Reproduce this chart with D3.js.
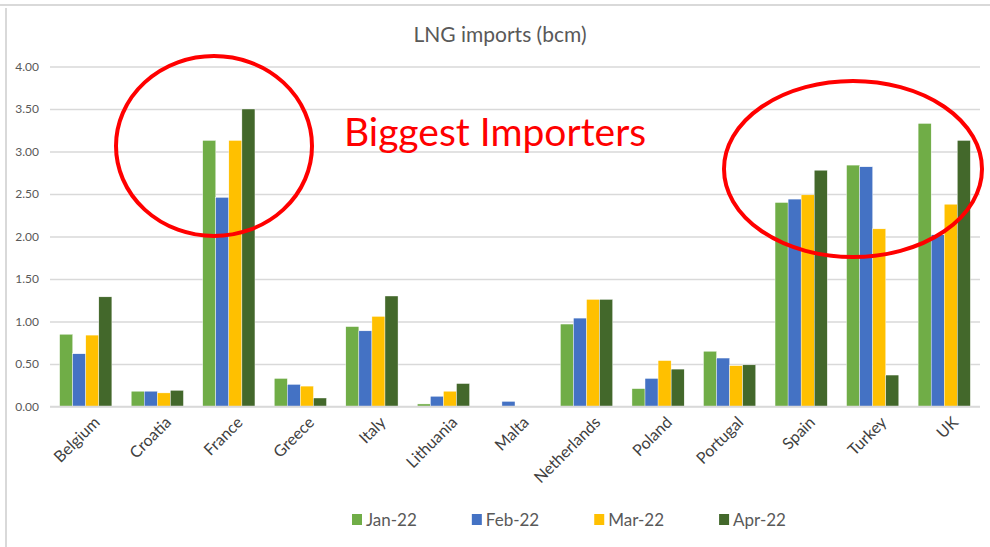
<!DOCTYPE html>
<html>
<head>
<meta charset="utf-8">
<script src="https://cdn.jsdelivr.net/npm/d3@7"></script>
<style>
    body { margin: 0; background: #fff; }
    #chart-area { width: 990px; height: 547px; }
    .axis text { font-family: Lato, "Open Sans", sans-serif; fill: #595959; }
</style>
</head>
<body>
<div id="chart-area"></div>
<script>

// data (bcm)
let countries = ["Belgium", "Croatia", "France", "Greece", "Italy", "Lithuania", "Malta",
    "Netherlands", "Poland", "Portugal", "Spain", "Turkey", "UK"];
let months = ["Jan-22", "Feb-22", "Mar-22", "Apr-22"];
let jan22 = [0.85, 0.18, 3.13, 0.33, 0.94, 0.03, 0.00, 0.97, 0.21, 0.65, 2.40, 2.84, 3.33];
let feb22 = [0.62, 0.18, 2.46, 0.26, 0.89, 0.12, 0.06, 1.04, 0.33, 0.57, 2.44, 2.82, 2.02];
let mar22 = [0.84, 0.16, 3.13, 0.24, 1.06, 0.18, 0.00, 1.26, 0.54, 0.48, 2.49, 2.09, 2.38];
let apr22 = [1.29, 0.19, 3.50, 0.10, 1.30, 0.27, 0.00, 1.26, 0.44, 0.49, 2.78, 0.37, 3.13];
let yTicks = [0, 0.5, 1, 1.5, 2, 2.5, 3, 3.5, 4];
let colors = ["#70ad47", "#4472c4", "#ffc000", "#43682b"];


class GroupedBarChart {

    constructor(parentElement) {
        this.parentElement = parentElement;
        this.initVis();
    }

    initVis() {
        let vis = this;

        vis.width = 990;
        vis.height = 547;
        vis.plot = {left: 50, right: 980, top: 66.5, bottom: 406.5};

        vis.svg = d3.select("#" + vis.parentElement).append("svg")
            .attr("width", vis.width)
            .attr("height", vis.height);

        // chart frame (top + left edges visible in the screenshot)
        vis.svg.append("line")
            .attr("x1", 0).attr("x2", vis.width)
            .attr("y1", 5).attr("y2", 5)
            .attr("stroke", "#d9d9d9").attr("stroke-width", 2);
        vis.svg.append("line")
            .attr("x1", 6).attr("x2", 6)
            .attr("y1", 8).attr("y2", vis.height)
            .attr("stroke", "#d9d9d9").attr("stroke-width", 2);

        // title
        vis.svg.append("text")
            .attr("x", 500)
            .attr("y", 42)
            .attr("text-anchor", "middle")
            .style("font-family", "Lato, 'Open Sans', sans-serif")
            .style("font-size", "21px")
            .style("fill", "#595959")
            .text("LNG imports (bcm)");

        // scales
        vis.x0 = d3.scaleBand()
            .domain(countries)
            .range([vis.plot.left, vis.plot.right])
            .paddingInner(0.27)
            .paddingOuter(0.135);

        vis.x1 = d3.scaleBand()
            .domain(months)
            .range([0, vis.x0.bandwidth()]);

        vis.y = d3.scaleLinear()
            .domain([0, 4])
            .range([vis.plot.bottom, vis.plot.top]);

        // gridlines + y labels
        vis.yAxis = d3.axisLeft(vis.y)
            .tickValues(yTicks)
            .tickFormat(d3.format(".2f"))
            .tickSize(-(vis.plot.right - vis.plot.left))
            .tickPadding(11);

        vis.svg.append("g")
            .attr("class", "y-axis axis")
            .attr("transform", `translate(${vis.plot.left},0)`)
            .call(vis.yAxis)
            .call(g => g.select(".domain").remove())
            .call(g => g.selectAll(".tick line").attr("stroke", "#d9d9d9").attr("stroke-width", 1.3))
            .call(g => g.selectAll(".tick text").style("font-size", "12px"));

        vis.wrangleData();
    }

    wrangleData() {
        let vis = this;

        let series = [jan22, feb22, mar22, apr22];
        vis.displayData = countries.map((c, i) => ({
            country: c,
            values: months.map((m, j) => ({month: m, value: series[j][i]}))
        }));

        vis.updateVis();
    }

    updateVis() {
        let vis = this;

        let color = d3.scaleOrdinal().domain(months).range(colors);

        let groups = vis.svg.append("g")
            .selectAll("g")
            .data(vis.displayData)
            .join("g")
            .attr("transform", d => `translate(${vis.x0(d.country)},0)`);

        groups.selectAll("rect")
            .data(d => d.values)
            .join("rect")
            .attr("x", d => vis.x1(d.month))
            .attr("y", d => vis.y(d.value))
            .attr("width", vis.x1.bandwidth())
            .attr("height", d => vis.y(0) - vis.y(d.value))
            .attr("fill", d => color(d.month))
            .attr("stroke", "#fff")
            .attr("stroke-width", 0.4);

        // baseline
        vis.svg.append("line")
            .attr("x1", vis.plot.left).attr("x2", vis.plot.right)
            .attr("y1", vis.y(0)).attr("y2", vis.y(0))
            .attr("stroke", "#d9d9d9").attr("stroke-width", 1.5);

        // rotated category labels
        vis.svg.append("g")
            .attr("class", "axis")
            .selectAll("text")
            .data(countries)
            .join("text")
            .attr("transform", d => `translate(${vis.x0(d) + vis.x0.bandwidth() / 2 + 7},${vis.y(0) + 9}) rotate(-45)`)
            .attr("text-anchor", "end")
            .attr("dy", "0.7em")
            .style("font-size", "16px")
            .style("fill", "#404040")
            .text(d => d);

        // legend
        let legend = vis.svg.append("g").attr("class", "legend");
        let lx = 352;
        months.forEach(m => {
            legend.append("rect")
                .attr("x", lx).attr("y", 514)
                .attr("width", 10).attr("height", 11)
                .attr("fill", color(m));
            let t = legend.append("text")
                .attr("x", lx + 14).attr("y", 526)
                .style("font-family", "'Liberation Sans Narrow', Lato, sans-serif")
                .style("font-size", "17px")
                .style("fill", "#595959")
                .text(m);
            lx += 14 + t.node().getComputedTextLength() + 55;
        });

        // annotations drawn on top, as in the source image
        let notes = vis.svg.append("g").attr("class", "annotations");
        notes.append("text")
            .attr("x", 344)
            .attr("y", 146)
            .style("font-family", "Lato, 'Open Sans', sans-serif")
            .style("font-size", "39px")
            .style("fill", "#ff0000")
            .text("Biggest Importers");

        notes.append("ellipse")
            .attr("cx", 214).attr("cy", 146)
            .attr("rx", 98).attr("ry", 90)
            .attr("fill", "none")
            .attr("stroke", "#ff0000")
            .attr("stroke-width", 4);

        notes.append("ellipse")
            .attr("cx", 853).attr("cy", 169)
            .attr("rx", 129).attr("ry", 88)
            .attr("fill", "none")
            .attr("stroke", "#ff0000")
            .attr("stroke-width", 4);
    }
}

new GroupedBarChart("chart-area");
</script>
</body>
</html>
